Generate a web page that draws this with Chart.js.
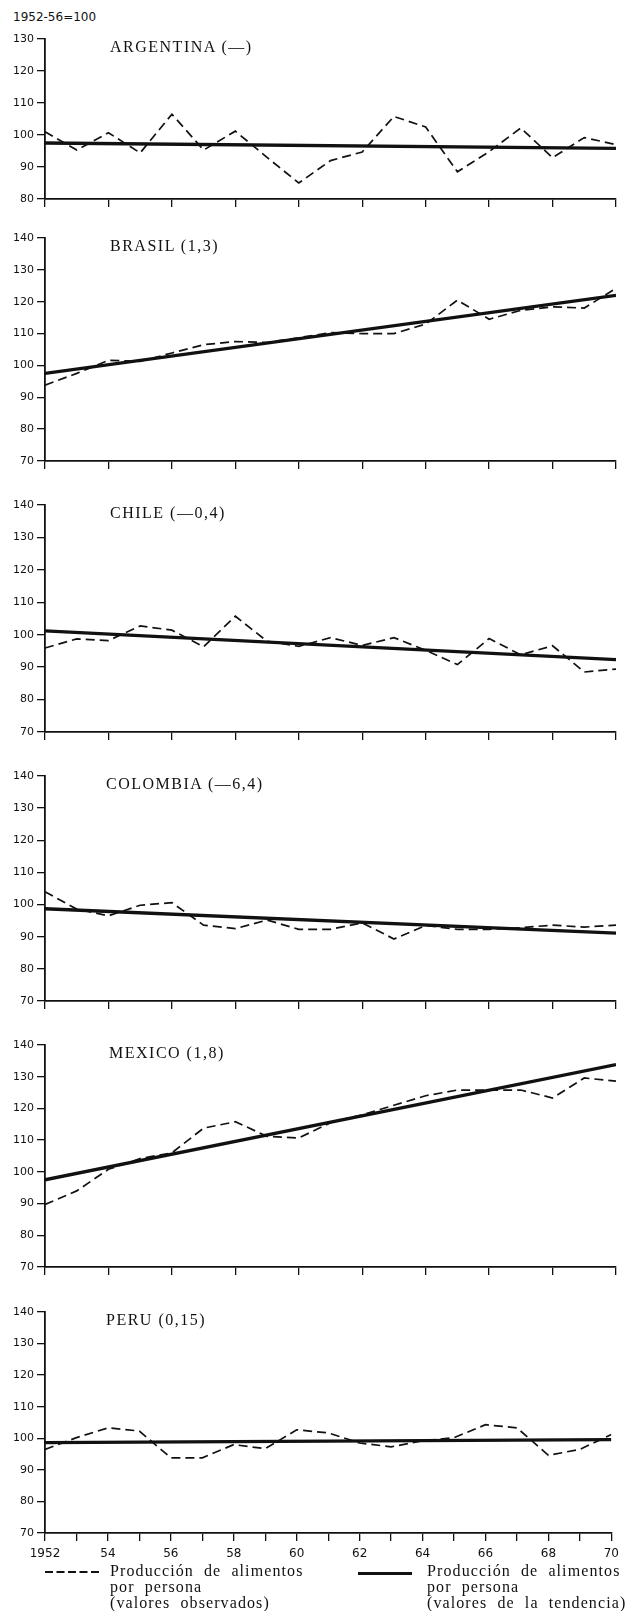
<!DOCTYPE html>
<html><head><meta charset="utf-8">
<script src="https://cdn.jsdelivr.net/npm/chart.js@4.4.0/dist/chart.umd.min.js"></script>
<style>
body{margin:0;background:#fff;width:625px;height:1611px;position:relative;overflow:hidden;}
canvas{position:absolute;left:0;}
.t{position:absolute;font-family:"Liberation Serif","Times New Roman",serif;font-size:16px;letter-spacing:1.5px;color:#111;white-space:nowrap;line-height:16px;}
.base{position:absolute;left:13px;top:10px;font-family:"DejaVu Sans",sans-serif;font-size:12px;line-height:14px;color:#111;}
.leg{position:absolute;font-family:"Liberation Serif","Times New Roman",serif;font-size:16px;line-height:16px;letter-spacing:1.1px;word-spacing:5px;color:#111;white-space:nowrap;}
</style></head><body>
<div class="base">1952-56=100</div>
<div id="wrap"></div>
<svg style="position:absolute;left:45px;top:1568px" width="54" height="8"><line x1="0" y1="4" x2="54" y2="4" stroke="#111" stroke-width="1.8" stroke-dasharray="8,3.5"/></svg>
<div style="position:absolute;left:358px;top:1572px;width:54px;height:3px;background:#111"></div>
<div class="leg" style="left:110px;top:1563px">Producción de alimentos<br>por persona<br>(valores observados)</div>
<div class="leg" style="left:427px;top:1563px">Producción de alimentos<br>por persona<br>(valores de la tendencia)</div>
<script>
// ---- data ----
const years = [1952,1953,1954,1955,1956,1957,1958,1959,1960,1961,1962,1963,1964,1965,1966,1967,1968,1969,1970];
const trendYears = [1952,1970];

const argentinaObs = [101,95.3,100.7,94.4,106.5,95.3,101.2,93,85,92,94.7,105.8,102.5,88.5,94.8,102.2,92.9,99.2,97];
const argentinaTrend = [97.5,95.8];

const brasilObs = [93.8,97.5,101.6,101.3,103.9,106.5,107.5,107.2,108.7,110.3,110,110,113,120.5,114.5,117.3,118.4,118,124.2];
const brasilTrend = [97.5,122];

const chileObs = [95.9,98.7,98.2,102.7,101.4,96.3,105.7,98,96.4,99.1,96.7,99.1,95.2,90.8,98.8,93.8,96.6,88.5,89.4];
const chileTrend = [101.2,92.3];

const colombiaObs = [104,98.6,96.5,99.8,100.6,93.6,92.5,95.2,92.3,92.3,94.3,89.3,93.5,92.3,92.3,92.8,93.6,93,93.6];
const colombiaTrend = [98.7,91.1];

const mexicoObs = [89.7,94,100.8,104.2,106,113.8,115.8,111.2,110.7,115.5,118,121,124,125.8,125.8,125.8,123.3,129.6,128.6];
const mexicoTrend = [97.5,133.8];

const peruObs = [96.5,100.2,103.3,102.3,93.8,93.8,98,96.7,102.7,101.7,98.5,97.3,99.2,100.2,104.3,103.3,94.6,96.5,101.2];
const peruTrend = [98.6,99.6];

const titles = ['ARGENTINA (—)','BRASIL (1,3)','CHILE (—0,4)','COLOMBIA (—6,4)','MEXICO (1,8)','PERU (0,15)'];
const observed = [argentinaObs,brasilObs,chileObs,colombiaObs,mexicoObs,peruObs];
const trends = [argentinaTrend,brasilTrend,chileTrend,colombiaTrend,mexicoTrend,peruTrend];
const yMins = [80,70,70,70,70,70];
const yMaxs = [130,140,140,140,140,140];

// ---- layout (pixel positions) ----
const areaTop = [39,238,505,776,1045,1312];
const areaBottom = [199,461,732,1001,1267,1533];
const titleLeft = [110,110,110,106,109,106];

const INK = '#111';
const PADTOP = 10;
const wrap = document.getElementById('wrap');

titles.forEach((name,i)=>{
  const last = i === titles.length-1;
  const axisH = last ? 40 : 12;
  const cv = document.createElement('canvas');
  const h = PADTOP + (areaBottom[i]-areaTop[i]) + axisH;
  cv.width = 625; cv.height = h;
  cv.style.top = (areaTop[i]-PADTOP)+'px';
  wrap.appendChild(cv);

  const t = document.createElement('div');
  t.className = 't';
  t.textContent = name;
  t.style.left = titleLeft[i]+'px';
  t.style.top = (areaTop[i])+'px';
  wrap.appendChild(t);

  new Chart(cv, {
    type:'line',
    data:{datasets:[
      {data: years.map((y,k)=>({x:y,y:observed[i][k]})), borderColor:INK, borderWidth:1.7, borderDash:[9,5], pointRadius:0, tension:0, fill:false},
      {data: trendYears.map((y,k)=>({x:y,y:trends[i][k]})), borderColor:INK, borderWidth:3.3, pointRadius:0, tension:0, fill:false}
    ]},
    options:{
      responsive:false, animation:false, devicePixelRatio:1,
      layout:{padding:{top:PADTOP,right:9,left:0,bottom:0}},
      plugins:{legend:{display:false}, tooltip:{enabled:false}},
      scales:{
        x:{type:'linear', min:1952, max:1970,
          afterFit:s=>{s.height=axisH;},
          ticks:{display:last, stepSize: last?1:2, autoSkip:false, maxRotation:0, minRotation:0, padding:6,
            font:{family:'DejaVu Sans', size:12}, color:INK,
            callback:v=> v===1952 ? '1952' : (v%2===0 ? String(v).slice(2) : '')},
          grid:{drawOnChartArea:false, drawTicks:true, tickLength:8, color:INK, lineWidth:1.3},
          border:{display:true, color:INK, width:1.8}},
        y:{min:yMins[i], max:yMaxs[i],
          afterFit:s=>{s.width=45;},
          ticks:{stepSize:10, padding:3, font:{family:'DejaVu Sans', size:11}, color:INK},
          grid:{drawOnChartArea:false, drawTicks:true, tickLength:8, color:INK, lineWidth:1.3},
          border:{display:true, color:INK, width:1.8}}
      }
    }
  });
});
</script>
</body></html>
